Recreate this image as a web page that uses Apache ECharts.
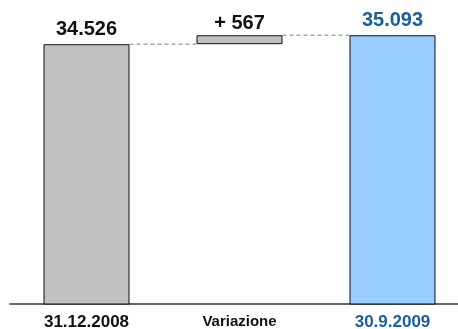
<!DOCTYPE html>
<html>
<head>
<meta charset="utf-8">
<script src="https://cdn.jsdelivr.net/npm/echarts@6/dist/echarts.min.js"></script>
<style>
  html, body { margin: 0; padding: 0; background: #fff; }
  #chart { width: 458px; height: 329px; }
</style>
</head>
<body>
<div id="chart"></div>
<script>
// Waterfall: opening balance, change, closing balance
const categories = ['31.12.2008', 'Variazione', '30.9.2009'];
const openingValue = 34526;
const changeValue = 567;
const closingValue = 35093;

// invisible stack base and visible bar values
const baseValues = ['-', openingValue, '-'];
const visibleValues = [openingValue, changeValue, closingValue];

// connector levels: [from category index, to category index, level]
const connectors = [
  [0, 1, openingValue],
  [1, 2, closingValue]
];

const BAR_RATIO = 0.562;
const BLUE_TEXT = '#1a5fa0';

function fmt(v) {
  return String(v).replace(/\B(?=(\d{3})+(?!\d))/g, '.');
}

const chart = echarts.init(document.getElementById('chart'));
chart.setOption({
  animation: false,
  grid: { left: 10, width: 459, top: 21, bottom: 25, containLabel: false, outerBoundsMode: 'none' },
  xAxis: {
    type: 'category',
    axisTick: { show: false },
    axisLine: { lineStyle: { color: '#333', width: 1.5 } },
    axisLabel: {
      margin: 10,
      fontFamily: 'Liberation Sans',
      fontWeight: 'bold',
      fontSize: 17,
      color: '#111'
    },
    data: categories.map(function (c, i) {
      if (i === 1) return { value: c, textStyle: { fontSize: 15 } };
      if (i === 2) return { value: c, textStyle: { color: BLUE_TEXT } };
      return c;
    })
  },
  yAxis: {
    type: 'value',
    min: 18000,
    max: 36000,
    show: false,
    splitLine: { show: false }
  },
  series: [
    {
      type: 'custom',
      z: 1,
      renderItem: function (params, api) {
        const from = api.value(0);
        const to = api.value(1);
        const level = api.value(2);
        const p0 = api.coord([from, level]);
        const p1 = api.coord([to, level]);
        const half = api.size([1, 0])[0] * BAR_RATIO / 2;
        return {
          type: 'line',
          shape: { x1: p0[0] + half, y1: p0[1], x2: p1[0] - half, y2: p1[1] },
          style: { stroke: '#aaaaaa', lineWidth: 1.5, lineDash: [4, 3] }
        };
      },
      data: connectors
    },
    {
      type: 'bar',
      stack: 'wf',
      barWidth: (BAR_RATIO * 100) + '%',
      itemStyle: { color: 'transparent' },
      data: baseValues,
      z: 2
    },
    {
      type: 'bar',
      stack: 'wf',
      barWidth: (BAR_RATIO * 100) + '%',
      z: 3,
      data: visibleValues.map(function (v, i) {
        const isClose = i === 2;
        const isChange = i === 1;
        return {
          value: v,
          itemStyle: {
            color: isClose ? '#99ccff' : '#c0c0c0',
            borderColor: '#111',
            borderWidth: 1
          },
          label: {
            show: true,
            position: 'top',
            distance: isChange ? 2 : 5,
            fontFamily: 'Liberation Sans',
            fontWeight: 'bold',
            fontSize: 20,
            color: isClose ? BLUE_TEXT : '#111',
            formatter: isChange ? ('+ ' + fmt(v)) : fmt(v)
          }
        };
      })
    }
  ]
});
</script>
</body>
</html>
